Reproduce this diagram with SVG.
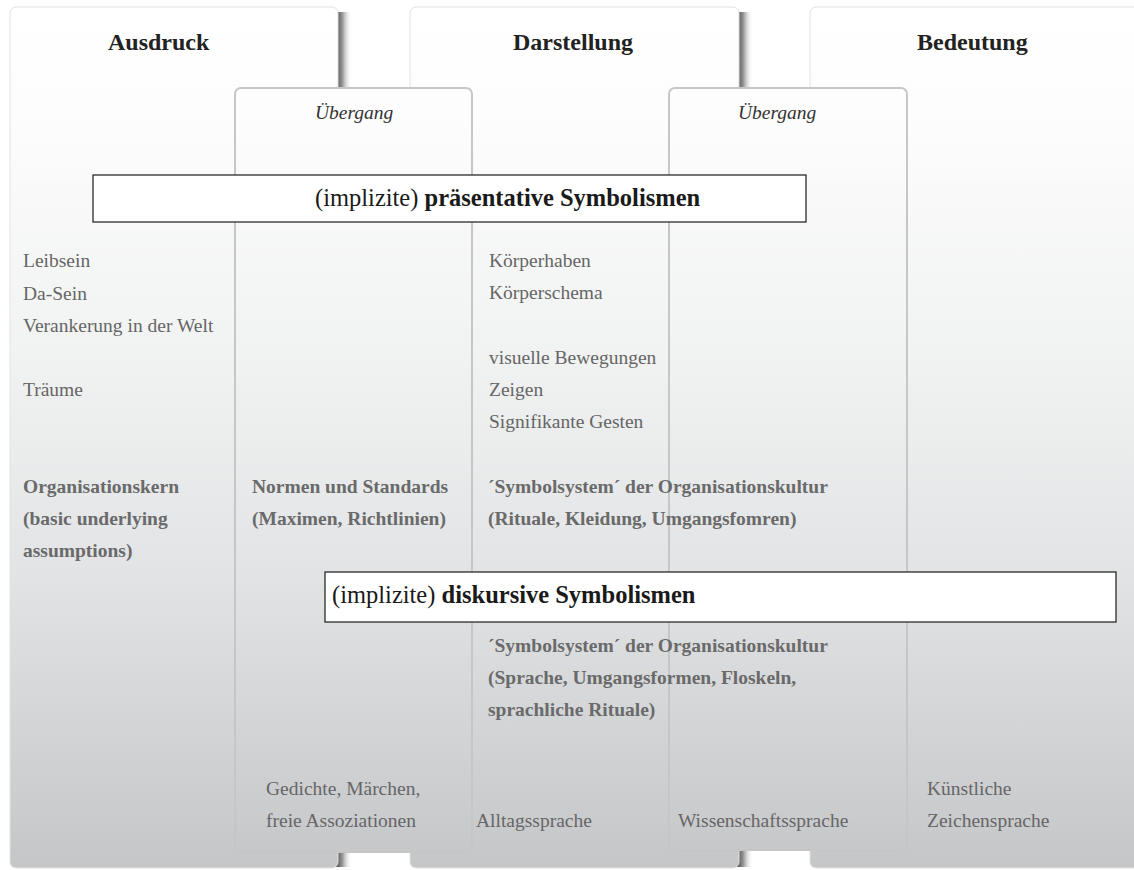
<svg xmlns="http://www.w3.org/2000/svg" width="1134" height="870" viewBox="0 0 1134 870">
<defs>
<linearGradient id="pg" gradientUnits="userSpaceOnUse" x1="0" y1="7" x2="0" y2="868">
<stop offset="0" stop-color="#ffffff"/>
<stop offset="0.12" stop-color="#fdfdfd"/>
<stop offset="0.4" stop-color="#f1f2f2"/>
<stop offset="0.65" stop-color="#e3e4e5"/>
<stop offset="0.85" stop-color="#d2d3d5"/>
<stop offset="1" stop-color="#c5c6c8"/>
</linearGradient>
<linearGradient id="sh" x1="0" y1="0" x2="1" y2="0">
<stop offset="0" stop-color="#3c3c3c" stop-opacity="0.95"/>
<stop offset="0.4" stop-color="#6a6a6a" stop-opacity="0.7"/>
<stop offset="1" stop-color="#ffffff" stop-opacity="0"/>
</linearGradient>
</defs>
<style>
.panel{fill:url(#pg);stroke:#e2e2e2;stroke-width:1}
.trans{fill:url(#pg);stroke:#c6c6c6;stroke-width:2}
.box{fill:#ffffff;stroke:#1a1a1a;stroke-width:1.2}
.title{font-family:"Liberation Serif","Times New Roman",serif;font-weight:bold;font-size:24px;fill:#222222}
.ital{font-family:"Liberation Serif","Times New Roman",serif;font-style:italic;font-size:19.5px;fill:#333333}
.boxt{font-family:"Liberation Serif","Times New Roman",serif;font-size:24.5px;fill:#1a1a1a}
.b{font-weight:bold}
.t{font-family:"Liberation Serif","Times New Roman",serif;font-size:19.5px;fill:#666666}
.tb{font-family:"Liberation Serif","Times New Roman",serif;font-size:19.5px;font-weight:bold;fill:#6a6a6a}
</style>
<g id="panel-ausdruck">
<rect x="336" y="12" width="16" height="855" fill="url(#sh)"/>
<rect class="panel" x="10" y="7" width="328" height="861" rx="6"/>
<text class="title" x="108" y="50">Ausdruck</text>
</g>
<g id="panel-darstellung">
<rect x="737" y="12" width="16" height="855" fill="url(#sh)"/>
<rect class="panel" x="410" y="7" width="329" height="861" rx="6"/>
<text class="title" x="513" y="50">Darstellung</text>
</g>
<g id="panel-bedeutung">
<rect class="panel" x="810" y="7" width="340" height="861" rx="6"/>
<text class="title" x="917" y="50">Bedeutung</text>
</g>
<g id="uebergang-1">
<rect class="trans" x="235" y="88" width="237" height="764" rx="6"/>
<text class="ital" x="315" y="119">Übergang</text>
</g>
<g id="uebergang-2">
<rect class="trans" x="669" y="88" width="238" height="762" rx="6"/>
<text class="ital" x="738" y="119">Übergang</text>
</g>
<g id="box-praesentativ">
<rect class="box" x="93" y="175" width="713" height="47"/>
<text class="boxt" x="315" y="206">(implizite) <tspan class="b">präsentative Symbolismen</tspan></text>
</g>
<g id="box-diskursiv">
<rect class="box" x="325" y="572" width="791" height="50"/>
<text class="boxt" x="332" y="603">(implizite) <tspan class="b">diskursive Symbolismen</tspan></text>
</g>
<g id="text-ausdruck">
<text class="t" x="23" y="267">Leibsein</text>
<text class="t" x="23" y="300">Da-Sein</text>
<text class="t" x="23" y="332">Verankerung in der Welt</text>
<text class="t" x="23" y="396">Träume</text>
<text class="tb" x="23" y="493">Organisationskern</text>
<text class="tb" x="23" y="525">(basic underlying</text>
<text class="tb" x="23" y="557">assumptions)</text>
</g>
<g id="text-uebergang-1">
<text class="tb" x="252" y="493">Normen und Standards</text>
<text class="tb" x="252" y="525">(Maximen, Richtlinien)</text>
<text class="t" x="266" y="795">Gedichte, Märchen,</text>
<text class="t" x="266" y="827">freie Assoziationen</text>
</g>
<g id="text-darstellung">
<text class="t" x="489" y="267">Körperhaben</text>
<text class="t" x="489" y="299">Körperschema</text>
<text class="t" x="489" y="364">visuelle Bewegungen</text>
<text class="t" x="489" y="396">Zeigen</text>
<text class="t" x="489" y="428">Signifikante Gesten</text>
<text class="tb" x="488" y="493">´Symbolsystem´ der Organisationskultur</text>
<text class="tb" x="488" y="525">(Rituale, Kleidung, Umgangsfomren)</text>
<text class="tb" x="488" y="652">´Symbolsystem´ der Organisationskultur</text>
<text class="tb" x="488" y="684">(Sprache, Umgangsformen, Floskeln,</text>
<text class="tb" x="488" y="716">sprachliche Rituale)</text>
<text class="t" x="476" y="827">Alltagssprache</text>
</g>
<g id="text-uebergang-2">
<text class="t" x="678" y="827">Wissenschaftssprache</text>
</g>
<g id="text-bedeutung">
<text class="t" x="927" y="795">Künstliche</text>
<text class="t" x="927" y="827">Zeichensprache</text>
</g>
<g id="connectors"/>
</svg>
